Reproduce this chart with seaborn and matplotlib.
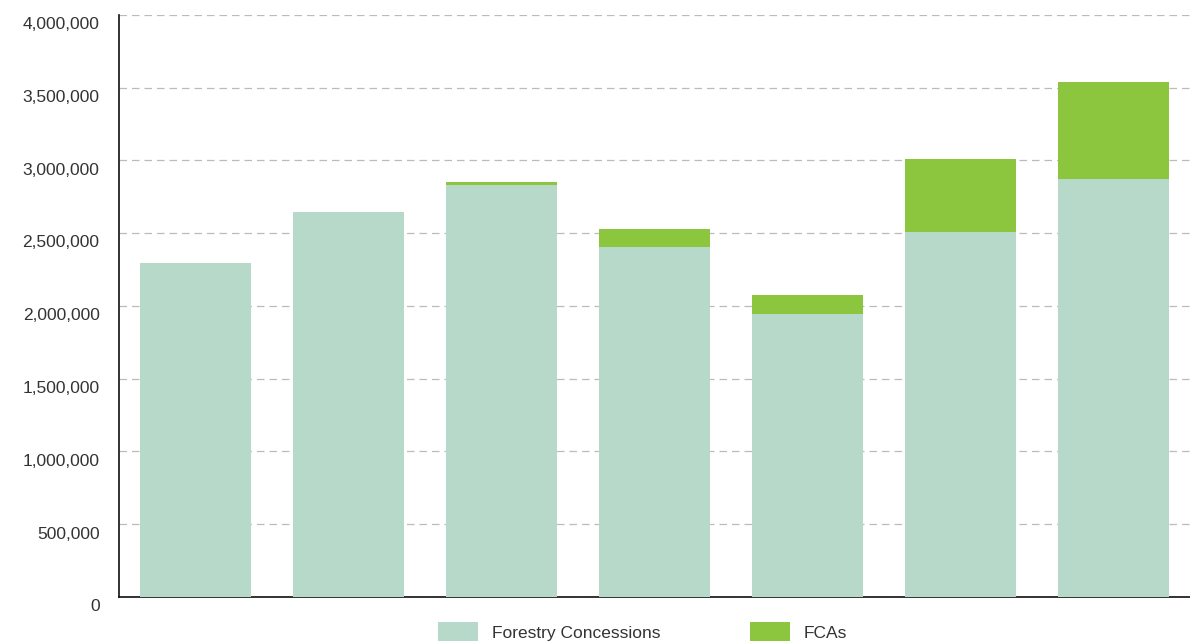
import matplotlib
matplotlib.use("Agg")
import matplotlib.pyplot as plt
import matplotlib.transforms as mtransforms
import seaborn as sns
import pandas as pd
from matplotlib.patches import Patch
from matplotlib.ticker import FuncFormatter

categories = ["1", "2", "3", "4", "5", "6", "7"]
forestry_concessions = [2295000, 2648000, 2833000, 2405000, 1945000, 2510000, 2873000]
fcas = [0, 0, 15000, 125000, 132000, 500000, 668000]
series_labels = ["Forestry Concessions", "FCAs"]

fc_color = "#b7d9c9"
fca_color = "#8cc63f"

df = pd.DataFrame({
    "cat": categories,
    "fc": forestry_concessions,
    "total": [a + b for a, b in zip(forestry_concessions, fcas)],
})

sns.set_theme(style="white")
plt.rcParams['font.family'] = ['Liberation Sans', 'DejaVu Sans']

fig = plt.figure(figsize=(11.9, 6.42), dpi=100)
ax = fig.add_axes([0.1, 0.07, 0.9, 0.907])

sns.barplot(data=df, x="cat", y="total", color=fca_color, saturation=1,
            width=0.725, ax=ax, zorder=3, linewidth=0, edgecolor="none")
sns.barplot(data=df, x="cat", y="fc", color=fc_color, saturation=1,
            width=0.725, ax=ax, zorder=3, linewidth=0, edgecolor="none")

ax.set_ylim(0, 4000000)
ax.set_xlim(-0.5, 6.5)
ax.set_yticks(range(0, 4000001, 500000))
ax.yaxis.set_major_formatter(FuncFormatter(lambda v, p: f"{int(v):,}"))
ax.set_xticks([])
ax.set_xlabel("")
ax.set_ylabel("")
ax.tick_params(axis="y", labelsize=12.5, labelcolor="#333333", length=0, pad=14)

offset = mtransforms.ScaledTranslation(0, -6 / 72, fig.dpi_scale_trans)
for lbl in ax.get_yticklabels():
    lbl.set_transform(lbl.get_transform() + offset)

ax.yaxis.grid(True, linestyle=(0, (6, 4)), color="#bbbbbb", linewidth=0.9, zorder=0)
ax.set_axisbelow(True)

for s in ["top", "right"]:
    ax.spines[s].set_visible(False)
for s in ["left", "bottom"]:
    ax.spines[s].set_visible(True)
    ax.spines[s].set_color("#111111")
    ax.spines[s].set_linewidth(1.2)

handles = [Patch(facecolor=fc_color, edgecolor="none", label=series_labels[0]),
           Patch(facecolor=fca_color, edgecolor="none", label=series_labels[1])]
fig.legend(handles=handles, loc="center", bbox_to_anchor=(0.54, 0.016), ncol=2,
           frameon=False, fontsize=12.5, handlelength=2.3, handleheight=1.3,
           columnspacing=5.2, labelcolor="#333333")

fig.savefig("out.png", dpi=100)
